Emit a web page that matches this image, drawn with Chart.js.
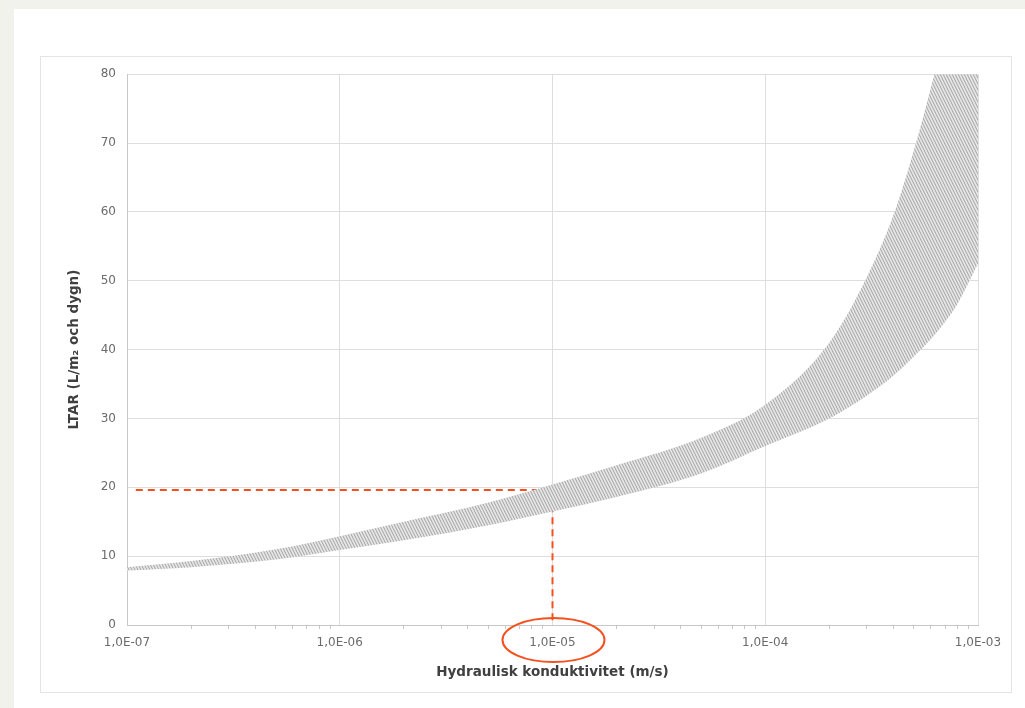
<!DOCTYPE html>
<html>
<head>
<meta charset="utf-8">
<script src="https://cdn.jsdelivr.net/npm/chart.js@4.4.1/dist/chart.umd.min.js"></script>
<style>
  html, body { margin: 0; padding: 0; }
  body { width: 1025px; height: 708px; background: #f2f2ed; position: relative; overflow: hidden; }
  #card { position: absolute; left: 14px; top: 9px; width: 1011px; height: 699px; background: #ffffff; }
  #frame { position: absolute; left: 40px; top: 56px; width: 972px; height: 637px; box-sizing: border-box; border: 1px solid #e4e4e4; }
  #c { position: absolute; left: 40px; top: 56px; }
</style>
</head>
<body>
<div id="card"></div>
<div id="frame"></div>
<canvas id="c" width="972" height="637"></canvas>
<script>
// ---- data ----
const kValues   = [1e-7, 2e-7, 5e-7, 1e-6, 2e-6, 5e-6, 1e-5, 2e-5, 5e-5, 1e-4, 2e-4, 3e-4, 4e-4, 5e-4, 6e-4, 7e-4, 8e-4, 1e-3];
const ltarLow   = [7.9, 8.4, 9.5, 10.9, 12.3, 14.5, 16.5, 18.6, 22.0, 26.0, 30.0, 33.3, 36.2, 39.0, 41.5, 44.0, 46.6, 52.5];
const ltarHigh  = [8.4, 9.3, 11.0, 12.9, 15.0, 17.8, 20.4, 23.2, 27.2, 32.0, 41.0, 50.5, 59.5, 69.0, 78.0, 86.0, 92.0, 105.0];
const refLineK  = [1.1e-7, 1e-5, 1e-5];
const refLineY  = [19.6, 19.6, 0];
const xTickValues = [1e-7, 1e-6, 1e-5, 1e-4, 1e-3];
const xTickLabels = ['1,0E-07', '1,0E-06', '1,0E-05', '1,0E-04', '1,0E-03'];
const yTickValues = [0, 10, 20, 30, 40, 50, 60, 70, 80];
const xTitle = 'Hydraulisk konduktivitet (m/s)';
const yTitle = 'LTAR (L/m\u2082 och dygn)';
const circledK = 1e-5;

// ---- hatch pattern for the band ----
function makeHatch() {
  const w = 3, h = 6;
  const pc = document.createElement('canvas');
  pc.width = w; pc.height = h;
  const p = pc.getContext('2d');
  p.fillStyle = '#e6e6e6';
  p.fillRect(0, 0, w, h);
  p.strokeStyle = '#a3a3a3';
  p.lineWidth = 1;
  for (let i = -1; i <= 1; i++) {
    p.beginPath();
    p.moveTo(i * w, 0);
    p.lineTo(i * w + w, h);
    p.stroke();
  }
  return p.createPattern(pc, 'repeat');
}

const lowPts  = kValues.map((k, i) => ({ x: k, y: ltarLow[i] }));
const highPts = kValues.map((k, i) => ({ x: k, y: ltarHigh[i] }));
const refPts  = refLineK.map((k, i) => ({ x: k, y: refLineY[i] }));

const isMajor = v => Math.abs(Math.log10(v) - Math.round(Math.log10(v))) < 1e-6;

const ellipsePlugin = {
  id: 'circleLabel',
  afterDraw(chart) {
    const xs = chart.scales.x;
    const ctx = chart.ctx;
    const cx = xs.getPixelForValue(circledK) + 1;
    const cy = xs.top + 15;
    ctx.save();
    ctx.strokeStyle = '#f4511e';
    ctx.lineWidth = 2;
    ctx.beginPath();
    ctx.ellipse(cx, cy, 51, 22, 0, 0, Math.PI * 2);
    ctx.stroke();
    ctx.restore();
  }
};

new Chart(document.getElementById('c'), {
  type: 'line',
  data: {
    datasets: [
      {
        label: 'low',
        data: lowPts,
        borderWidth: 0,
        borderColor: 'rgba(0,0,0,0)',
        pointRadius: 0,
        fill: false,
        cubicInterpolationMode: 'monotone'
      },
      {
        label: 'high',
        data: highPts,
        borderWidth: 0,
        borderColor: 'rgba(0,0,0,0)',
        backgroundColor: makeHatch(),
        pointRadius: 0,
        fill: '-1',
        cubicInterpolationMode: 'monotone'
      },
      {
        label: 'ref',
        data: refPts,
        borderColor: '#f4511e',
        borderWidth: 2,
        borderDash: [7, 5],
        pointRadius: 0,
        fill: false,
        tension: 0
      }
    ]
  },
  options: {
    responsive: false,
    animation: false,
    devicePixelRatio: 1,
    layout: { padding: { top: 16, right: 34, left: 0, bottom: 0 } },
    plugins: { legend: { display: false }, tooltip: { enabled: false } },
    scales: {
      x: {
        type: 'logarithmic',
        min: 1e-7,
        max: 1e-3,
        afterFit: s => { s.height = 68; },
        afterBuildTicks: s => {
          const t = [];
          for (let e = -7; e <= -4; e++) {
            for (let m = 1; m <= 9; m++) t.push({ value: m * Math.pow(10, e) });
          }
          t.push({ value: 1e-3 });
          s.ticks = t;
        },
        border: { color: '#c8c8c8', width: 1 },
        grid: {
          color: c => (c.tick && isMajor(c.tick.value)) ? '#dedede' : 'rgba(0,0,0,0)',
          tickColor: c => (c.tick && isMajor(c.tick.value)) ? 'rgba(0,0,0,0)' : '#c8c8c8',
          tickLength: 4,
          lineWidth: 1
        },
        ticks: {
          autoSkip: false,
          maxRotation: 0,
          padding: 7,
          color: '#6b6b6b',
          font: { family: 'DejaVu Sans', size: 12 },
          callback: v => {
            const i = xTickValues.findIndex(t => Math.abs(Math.log10(t) - Math.log10(v)) < 1e-6);
            return i >= 0 ? xTickLabels[i] : '';
          }
        },
        title: {
          display: true,
          text: xTitle,
          color: '#404040',
          font: { family: 'DejaVu Sans', size: 13.5, weight: 'bold' },
          padding: { top: 12, bottom: 12 }
        }
      },
      y: {
        min: 0,
        max: 80,
        afterFit: s => { s.width = 87; },
        afterBuildTicks: s => { s.ticks = yTickValues.map(v => ({ value: v })); },
        border: { color: '#c8c8c8', width: 1 },
        grid: { color: '#dedede', drawTicks: false, lineWidth: 1 },
        ticks: {
          padding: 11,
          color: '#6b6b6b',
          font: { family: 'DejaVu Sans', size: 12 }
        },
        title: {
          display: true,
          text: yTitle,
          color: '#404040',
          font: { family: 'DejaVu Sans', size: 13.5, weight: 'bold' },
          padding: { top: 26, bottom: 26 }
        }
      }
    }
  },
  plugins: [ellipsePlugin]
});
</script>
</body>
</html>
